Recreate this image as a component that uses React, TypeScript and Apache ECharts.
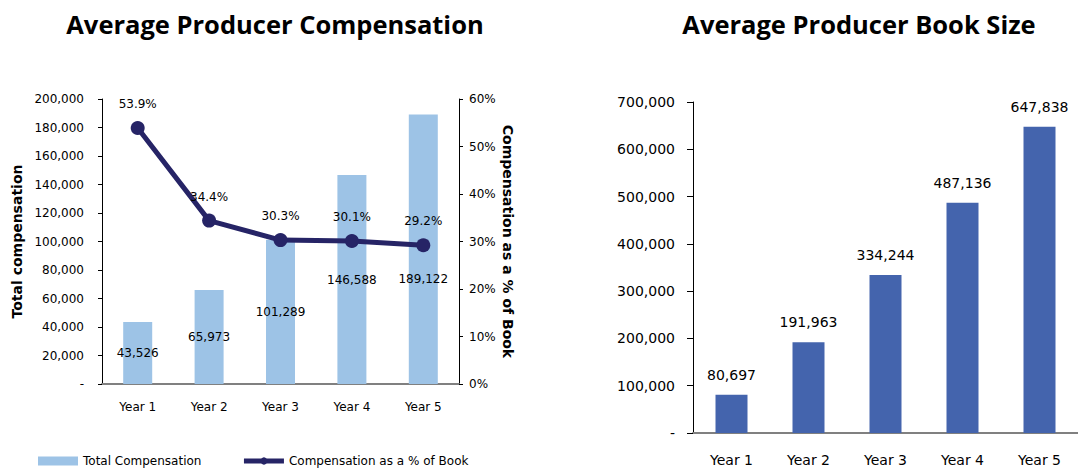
import React, { useEffect, useRef } from "react";
import * as echarts from "echarts";

const years = ["Year 1", "Year 2", "Year 3", "Year 4", "Year 5"];
const totalCompensation = [43526, 65973, 101289, 146588, 189122];
const compensationPct = [53.9, 34.4, 30.3, 30.1, 29.2];
const bookSize = [80697, 191963, 334244, 487136, 647838];
const leftTitle = "Average Producer Compensation";
const rightTitle = "Average Producer Book Size";

const FONT = "DejaVu Sans";
const fmt = (v: number) => (v === 0 ? "-" : v.toLocaleString("en-US"));

export default function App() {
  const ref = useRef<HTMLDivElement>(null);
  useEffect(() => {
    const chart = echarts.init(ref.current!, undefined, { renderer: "svg" });
    chart.setOption({
      animation: false,
      backgroundColor: "#ffffff",
      textStyle: { fontFamily: FONT, color: "#000" },
      graphic: [
        {
          type: "text",
          style: {
            text: leftTitle,
            x: 275,
            y: 24,
            textAlign: "center",
            textVerticalAlign: "middle",
            font: "bold 25.5px 'Open Sans'",
            fill: "#000",
          },
        },
        {
          type: "text",
          style: {
            text: rightTitle,
            x: 859,
            y: 24,
            textAlign: "center",
            textVerticalAlign: "middle",
            font: "bold 25.5px 'Open Sans'",
            fill: "#000",
          },
        },
      ],
      legend: {
        left: 33,
        top: 450,
        itemGap: 40,
        itemWidth: 40,
        itemHeight: 9,
        textStyle: { fontFamily: FONT, fontSize: 12, color: "#000" },
        data: [
          { name: "Total Compensation", icon: "rect" },
          {
            name: "Compensation as a % of Book",
            lineStyle: { width: 5 },
          },
        ],
      },
      grid: [
        { left: 102, right: 619, top: 99, bottom: 84 },
        { left: 693, right: -8, top: 102, bottom: 35 },
      ],
      xAxis: [
        {
          type: "category",
          gridIndex: 0,
          data: years,
          axisLine: { lineStyle: { color: "#808080", width: 2 } },
          axisTick: { length: 5, lineStyle: { color: "#000" } },
          axisLabel: { fontFamily: FONT, fontSize: 12, color: "#000", margin: 17 },
        },
        {
          type: "category",
          gridIndex: 1,
          data: years,
          axisLine: { lineStyle: { color: "#808080", width: 2 } },
          axisTick: { length: 6, lineStyle: { color: "#000" } },
          axisLabel: { fontFamily: FONT, fontSize: 14, color: "#000", margin: 20 },
        },
      ],
      yAxis: [
        {
          type: "value",
          gridIndex: 0,
          min: 0,
          max: 200000,
          interval: 20000,
          name: "Total compensation",
          nameLocation: "middle",
          nameGap: 78,
          nameTextStyle: { fontFamily: FONT, fontSize: 14, fontWeight: "bold", color: "#000" },
          splitLine: { show: false },
          axisLine: { show: true, lineStyle: { color: "#000" } },
          axisTick: { show: true, length: 4, lineStyle: { color: "#000" } },
          axisLabel: { fontFamily: FONT, fontSize: 12, color: "#000", margin: 18, formatter: fmt },
        },
        {
          type: "value",
          gridIndex: 0,
          position: "right",
          min: 0,
          max: 60,
          interval: 10,
          name: "Compensation as a % of Book",
          nameLocation: "middle",
          nameRotate: -90,
          nameGap: 42,
          nameTextStyle: { fontFamily: FONT, fontSize: 14, fontWeight: "bold", color: "#000" },
          splitLine: { show: false },
          axisLine: { show: true, lineStyle: { color: "#000" } },
          axisTick: { show: true, length: 4, lineStyle: { color: "#000" } },
          axisLabel: { fontFamily: FONT, fontSize: 12, color: "#000", margin: 10, formatter: "{value}%" },
        },
        {
          type: "value",
          gridIndex: 1,
          min: 0,
          max: 700000,
          interval: 100000,
          splitLine: { show: false },
          axisLine: { show: true, lineStyle: { color: "#000" } },
          axisTick: { show: true, length: 6, lineStyle: { color: "#000" } },
          axisLabel: { fontFamily: FONT, fontSize: 14, color: "#000", margin: 18, formatter: fmt },
        },
      ],
      series: [
        {
          name: "Total Compensation",
          type: "bar",
          xAxisIndex: 0,
          yAxisIndex: 0,
          barWidth: 29,
          itemStyle: { color: "#9DC3E6" },
          label: {
            show: true,
            position: "inside",
            fontFamily: FONT,
            fontSize: 12,
            color: "#000",
            formatter: (p: any) => fmt(p.value),
          },
          data: totalCompensation.map((v, i) =>
            i === 4 ? { value: v, label: { offset: [0, 30] } } : v
          ),
          z: 1,
        },
        {
          name: "Compensation as a % of Book",
          type: "line",
          xAxisIndex: 0,
          yAxisIndex: 1,
          symbol: "circle",
          symbolSize: 14,
          lineStyle: { color: "#262466", width: 5 },
          itemStyle: { color: "#262466" },
          label: {
            show: true,
            position: "top",
            distance: 11,
            fontFamily: FONT,
            fontSize: 12,
            color: "#000",
            formatter: (p: any) => p.value.toFixed(1) + "%",
          },
          data: compensationPct,
          z: 3,
        },
        {
          name: "Book Size",
          type: "bar",
          xAxisIndex: 1,
          yAxisIndex: 2,
          barWidth: 32,
          itemStyle: { color: "#4464AD" },
          label: {
            show: true,
            position: "top",
            distance: 13,
            fontFamily: FONT,
            fontSize: 14,
            color: "#000",
            formatter: (p: any) => fmt(p.value),
          },
          data: bookSize,
        },
      ],
    });
    return () => chart.dispose();
  }, []);
  return (
    <div
      ref={ref}
      style={{ position: "fixed", left: 0, top: 0, width: 1078, height: 468 }}
    />
  );
}
